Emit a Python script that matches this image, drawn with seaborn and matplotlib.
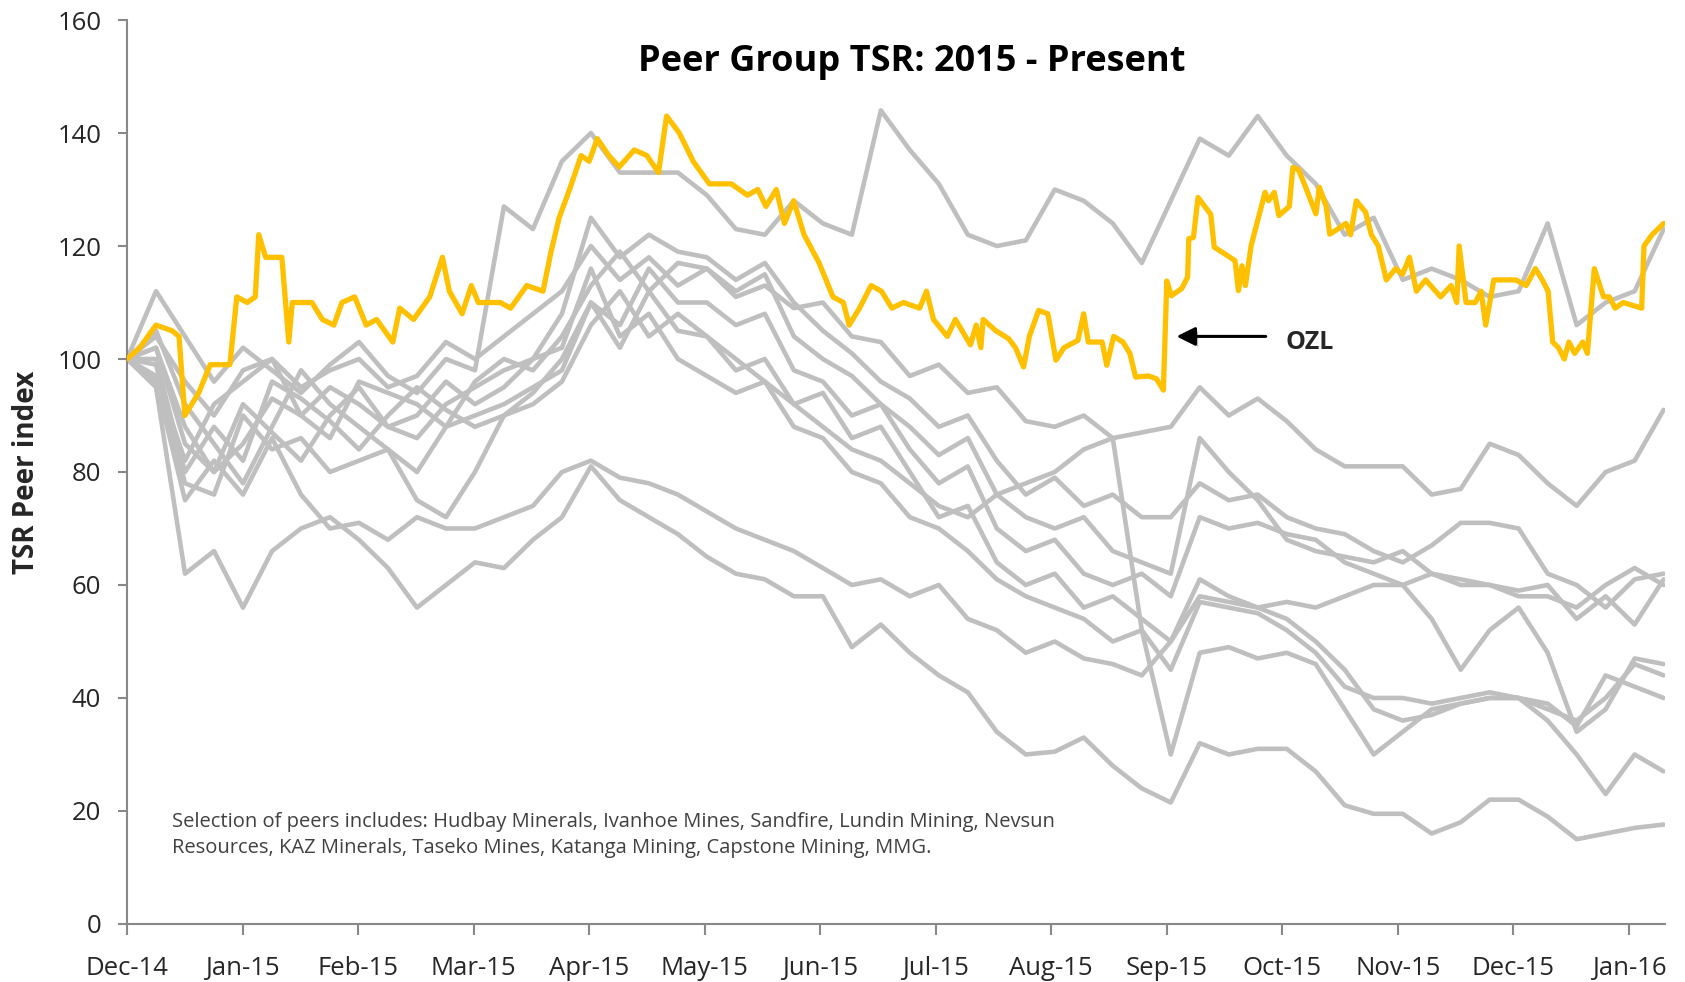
import numpy as np
import pandas as pd
import matplotlib
matplotlib.use('Agg')
import matplotlib.pyplot as plt
import matplotlib.patheffects as pe
import seaborn as sns

# x axis: month positions (0 = Dec-14), peers sampled roughly weekly
month_labels = ['Dec-14', 'Jan-15', 'Feb-15', 'Mar-15', 'Apr-15', 'May-15', 'Jun-15',
                'Jul-15', 'Aug-15', 'Sep-15', 'Oct-15', 'Nov-15', 'Dec-15', 'Jan-16']
peer_x = np.linspace(0, 13.3, 54)

peer_1 = [100, 112, 104, 96, 102, 98, 94, 99, 103, 97, 94, 100, 98,
          127, 123, 135, 140, 133, 133, 133, 129, 123, 122, 128, 124, 122,
          144, 137, 131, 122, 120, 121, 130, 128, 124, 117, 128, 139, 136, 143,
          136, 131, 122, 125, 114, 116, 114, 111, 112, 124, 106, 110, 112, 123]
peer_2 = [100, 104, 96, 90, 98, 100, 95, 98, 100, 95, 97, 103, 100,
          104, 108, 112, 120, 114, 118,
          113, 116, 111, 113, 109, 110, 104, 103, 97, 99, 94, 95, 89, 88, 90, 86, 87, 88,
          95, 90, 93, 89, 84, 81, 81, 81, 76, 77, 85, 83, 78, 74, 80, 82, 91]
peer_3 = [100, 102, 88, 80, 85, 93, 90, 95, 92, 88, 86, 92, 95,
          98, 100, 108, 125, 118, 122,
          119, 118, 114, 117, 110, 105, 101, 96, 93, 88, 90, 82, 76, 79, 74, 76, 72, 72,
          78, 75, 76, 72, 70, 69, 66, 64, 67, 71, 71, 70, 62, 60, 56, 61, 62]
peer_4 = [100, 97, 82, 92, 96, 100, 90, 86, 96, 94, 92, 88, 96,
          100, 98, 104, 113, 119, 112,
          117, 116, 112, 115, 104, 100, 97, 92, 88, 83, 86, 76, 72, 70, 72, 66, 64, 62,
          86, 80, 75, 68, 66, 65, 64, 66, 62, 60, 60, 59, 60, 54, 58, 53, 61]
peer_5 = [100, 105, 92, 85, 78, 88, 98, 92, 88, 84, 80, 88, 90,
          92, 95, 98, 110, 106, 116,
          110, 110, 106, 108, 98, 96, 90, 92, 84, 78, 81, 70, 66, 68, 62, 60, 62, 58,
          72, 70, 71, 69, 68, 64, 62, 60, 62, 61, 60, 58, 58, 56, 60, 63, 60]
peer_6 = [100, 99, 78, 76, 90, 84, 86, 80, 82, 84, 75, 72, 80,
          90, 92, 96, 106, 112, 104,
          108, 104, 98, 100, 92, 94, 86, 88, 80, 72, 74, 64, 60, 62, 56, 58, 54, 50,
          61, 58, 56, 57, 56, 58, 60, 60, 54, 45, 52, 56, 48, 34, 38, 47, 46]
peer_7 = [100, 102, 85, 80, 92, 87, 82, 90, 95, 88, 90, 96, 92,
          95, 100, 102, 116, 104, 108,
          100, 97, 94, 96, 88, 86, 80, 78, 72, 70, 66, 61, 58, 56, 54, 50, 52, 45,
          57, 56, 55, 52, 48, 42, 40, 40, 39, 40, 41, 40, 38, 36, 40, 46, 44]
peer_8 = [100, 96, 75, 82, 76, 86, 76, 70, 71, 68, 72, 70, 70,
          72, 74, 80, 82, 79, 78,
          76, 73, 70, 68, 66, 63, 60, 61, 58, 60, 54, 52, 48, 50, 47, 46, 44, 50,
          58, 57, 56, 54, 50, 45, 38, 36, 37, 39, 40, 40, 39, 35, 44, 42, 40]
peer_9 = [100, 100, 80, 88, 82, 96, 93, 89, 84, 90, 95, 91, 88,
          90, 94, 100, 110, 102, 112,
          105, 104, 100, 96, 92, 88, 84, 82, 78, 74, 72, 76, 78, 80, 84, 86, 52, 30,
          48, 49, 47, 48, 46, 38, 30, 34, 38, 39, 40, 40, 36, 30, 23, 30, 27]
peer_10 = [100, 95, 62, 66, 56, 66, 70, 72, 68, 63, 56, 60, 64,
           63, 68, 72, 81, 75, 72, 69, 65, 62, 61, 58, 58, 49,
           53, 48, 44, 41, 34, 30, 30.5, 33, 28, 24, 21.5, 32, 30, 31,
           31, 27, 21, 19.5, 19.5, 16, 18, 22, 22, 19, 15, 16, 17, 17.6]

ozl_x = [0.00, 0.11, 0.25, 0.39, 0.45, 0.50, 0.62, 0.72, 0.89, 0.95, 1.04, 1.11, 1.14, 1.20,
         1.34, 1.40, 1.43, 1.60, 1.69, 1.79, 1.86, 1.97, 2.07, 2.16, 2.30, 2.36, 2.48, 2.62,
         2.73, 2.79, 2.90, 2.98, 3.04, 3.23, 3.32, 3.46, 3.60, 3.67, 3.74, 3.83, 3.93, 4.00,
         4.07, 4.17, 4.26, 4.39, 4.50, 4.60, 4.67, 4.78, 4.90, 5.04, 5.23, 5.37, 5.46, 5.53,
         5.62, 5.69, 5.77, 5.86, 5.99, 6.11, 6.20, 6.25, 6.34, 6.44, 6.53, 6.62, 6.72, 6.86,
         6.92, 6.98, 7.10, 7.17, 7.30, 7.35, 7.39, 7.41, 7.52, 7.63, 7.69, 7.76, 7.81, 7.89,
         7.97, 8.04, 8.11, 8.23, 8.28, 8.32, 8.44, 8.48, 8.54, 8.62, 8.68, 8.73, 8.84, 8.91,
         8.97, 9.00, 9.04, 9.13, 9.18, 9.19, 9.23, 9.27, 9.38, 9.41, 9.51, 9.59, 9.62, 9.65,
         9.68, 9.73, 9.85, 9.88, 9.93, 9.97, 10.06, 10.09, 10.14, 10.19, 10.29, 10.32, 10.38,
         10.41, 10.48, 10.55, 10.59, 10.64, 10.72, 10.77, 10.83, 10.90, 10.98, 11.04, 11.10,
         11.16, 11.24, 11.37, 11.46, 11.51, 11.53, 11.59, 11.67, 11.72, 11.76, 11.83, 11.93,
         12.02, 12.11, 12.19, 12.25, 12.30, 12.34, 12.39, 12.44, 12.48, 12.53, 12.60, 12.64,
         12.70, 12.78, 12.83, 12.88, 12.95, 13.11, 13.13, 13.20, 13.30]
ozl = [100, 102, 106, 105, 104, 90, 94, 99, 99, 111, 110, 111, 122, 118,
       118, 103, 110, 110, 107, 106, 110, 111, 106, 107, 103, 109, 107, 111,
       118, 112, 108, 113, 110, 110, 109, 113, 112, 119, 125, 130, 136, 135,
       139, 136, 134, 137, 136, 133, 143, 140, 135, 131, 131, 129, 130, 127,
       130, 124, 128, 122, 117, 111, 110, 106, 109, 113, 112, 109, 110, 109,
       112, 107, 104, 107, 102.5, 106, 102, 107, 105, 103.6, 102, 98.6, 104, 108.6,
       108, 99.8, 102, 103.3, 108, 103, 103, 98.9, 104, 103, 101, 96.8, 97, 96.5,
       94.5, 113.8, 111.2, 112.5, 114.5, 121.3, 121.5, 128.6, 125.6, 119.8, 118.5, 117.4, 112.1, 116.5,
       113, 120.1, 129.5, 128, 129.5, 125.4, 127, 133.9, 133.5, 131, 125.7, 130.4, 127,
       122.1, 123, 124, 122, 128, 126, 122, 120, 114, 116, 115, 118,
       112, 114, 111, 113, 110, 120, 110, 110, 112, 106, 114, 114,
       114, 113, 116, 114, 112, 103, 102, 100, 103, 101, 103, 101,
       116, 111, 111, 109, 110, 109, 120, 122, 124]

peers = [peer_1, peer_2, peer_3, peer_4, peer_5, peer_6, peer_7, peer_8, peer_9, peer_10]
peer_df = pd.concat([pd.DataFrame({'month': peer_x, 'tsr': vals, 'peer': i})
                     for i, vals in enumerate(peers)], ignore_index=True)
ozl_df = pd.DataFrame({'month': ozl_x, 'tsr': ozl})

sns.set_style('white')
plt.rcParams['font.family'] = ['Open Sans', 'DejaVu Sans']

fig = plt.figure(figsize=(16.85, 9.82), dpi=100)
ax = fig.add_axes([0.0754, 0.0591, 0.9126, 0.9205])

sns.lineplot(data=peer_df, x='month', y='tsr', units='peer', estimator=None,
             color='#BFBFBF', linewidth=3.3, solid_joinstyle='round', ax=ax)
sns.lineplot(data=ozl_df, x='month', y='tsr', color='#FFC000', linewidth=3.8,
             solid_joinstyle='round', ax=ax, zorder=5)

ax.set_xlim(0, 13.31)
ax.set_ylim(0, 160)
ax.set_xticks(range(len(month_labels)))
ax.set_xticklabels(month_labels)
ax.set_yticks(range(0, 161, 20))
ax.set_xlabel('')
ax.set_ylabel('TSR Peer index', fontsize=20, fontweight='bold', labelpad=12)

for side in ['top', 'right']:
    ax.spines[side].set_visible(False)
for side in ['left', 'bottom']:
    ax.spines[side].set_color('#888888')
    ax.spines[side].set_linewidth(1.5)
ax.tick_params(axis='x', direction='out', length=8, width=1.5, color='#888888',
               labelsize=18.5, pad=15, bottom=True)
ax.tick_params(axis='y', direction='out', length=6.5, width=1.5, color='#888888',
               labelsize=18.5, pad=12, left=True)

ax.text(6.79, 152.5, 'Peer Group TSR: 2015 - Present', ha='center', va='center',
        fontsize=26, fontweight='bold', color='black')

ax.text(0.39, 18.05, 'Selection of peers includes: Hudbay Minerals, Ivanhoe Mines, Sandfire, '
        'Lundin Mining, Nevsun', ha='left', va='center', fontsize=14.5, color='#404040')
ax.text(0.39, 13.5, 'Resources, KAZ Minerals, Taseko Mines, Katanga Mining, Capstone Mining, MMG.',
        ha='left', va='center', fontsize=14.5, color='#404040')

ax.annotate('', xy=(9.06, 104), xytext=(9.88, 104),
            arrowprops=dict(arrowstyle='-|>', color='black', lw=2.2, mutation_scale=28,
                            path_effects=[pe.SimplePatchShadow(offset=(2, -2), alpha=0.25),
                                          pe.Normal()]),
            zorder=6)
ax.text(10.03, 103, 'OZL', ha='left', va='center', fontsize=18, fontweight='bold')

fig.savefig('out.png', dpi=100)
